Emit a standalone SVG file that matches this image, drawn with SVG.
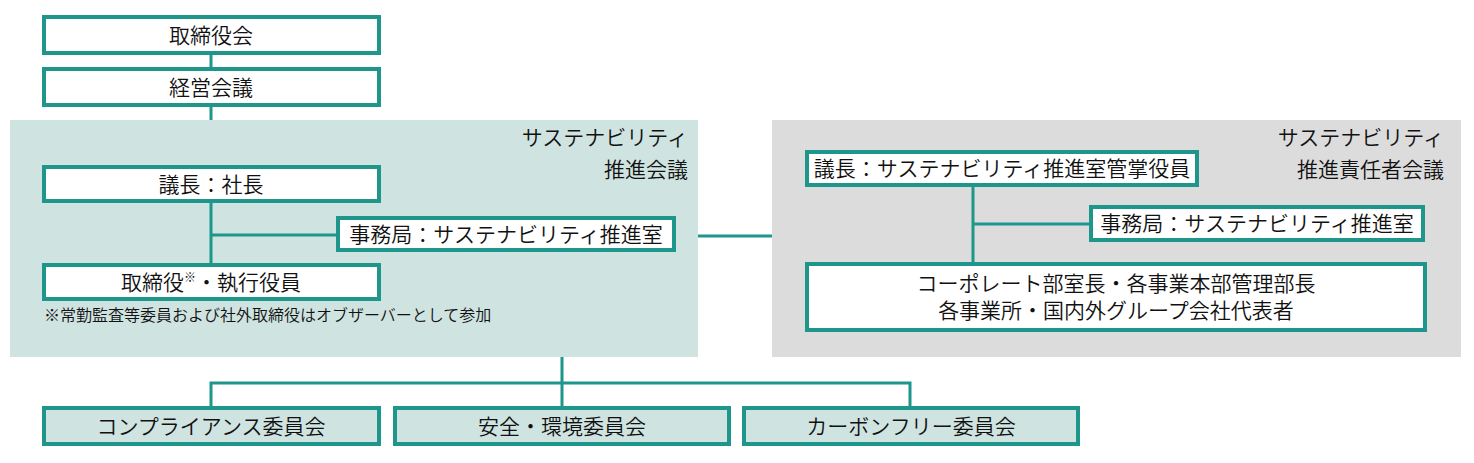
<svg xmlns="http://www.w3.org/2000/svg" width="1474" height="463" viewBox="0 0 1474 463">
<style>
.box{fill:#ffffff;stroke:#1e968c;stroke-width:4}
.cbox{fill:#cfe3e0;stroke:#1e968c;stroke-width:4}
.ln{stroke:#1e968c;stroke-width:3;fill:none}
text{font-family:"Noto Sans CJK JP","Noto Sans",sans-serif;fill:#111;font-size:21px;font-weight:350}
.c{text-anchor:middle}
.r{text-anchor:end;font-size:21px}
.note{font-size:16px}
</style>
<rect width="1474" height="463" fill="#ffffff"/>
<g id="panel-left"><rect x="10" y="120" width="688" height="237" fill="#cfe3e0"/>
<text class="r" x="688" y="145">サステナビリティ</text>
<text class="r" x="688" y="177">推進会議</text>
<text class="note" x="44" y="321">※常勤監査等委員および社外取締役はオブザーバーとして参加</text></g>
<g id="panel-right"><rect x="772" y="120" width="689" height="237" fill="#dcdcdc"/>
<text class="r" x="1444" y="145">サステナビリティ</text>
<text class="r" x="1444" y="177">推進責任者会議</text></g>
<g id="connectors">
<path class="ln" d="M211 55V67M211 107V120M211 203V263M211 235H336M698 236H772M973 187V262M973 224H1089M562 357V383M211 406V383H910V406M562 383V406"/>
</g>
<g id="n1"><rect class="box" x="44" y="17" width="335" height="36"/><text class="c" x="211" y="43">取締役会</text></g>
<g id="n2"><rect class="box" x="44" y="69" width="335" height="36"/><text class="c" x="211" y="95">経営会議</text></g>
<g id="n3"><rect class="box" x="44" y="167" width="335" height="34"/><text class="c" x="211" y="192">議長：社長</text></g>
<g id="n4"><rect class="box" x="338" y="218" width="336" height="32"/><text class="c" x="506" y="242">事務局：サステナビリティ推進室</text></g>
<g id="n5"><rect class="box" x="44" y="265" width="335" height="34"/><text class="c" x="211" y="290">取締役<tspan font-size="12" dy="-8">※</tspan><tspan dy="8">・執行役員</tspan></text></g>
<g id="n6"><rect class="box" x="807" y="152" width="390" height="33"/><text class="c" x="1002" y="176">議長：サステナビリティ推進室管掌役員</text></g>
<g id="n7"><rect class="box" x="1091" y="207" width="332" height="33"/><text class="c" x="1257" y="231">事務局：サステナビリティ推進室</text></g>
<g id="n8"><rect class="box" x="807" y="264" width="618" height="66"/><text class="c" x="1116" y="291">コーポレート部室長・各事業本部管理部長</text><text class="c" x="1116" y="318">各事業所・国内外グループ会社代表者</text></g>
<g id="n9"><rect class="cbox" x="44" y="408" width="335" height="36"/><text class="c" x="211" y="434">コンプライアンス委員会</text></g>
<g id="n10"><rect class="cbox" x="395" y="408" width="334" height="36"/><text class="c" x="562" y="434">安全・環境委員会</text></g>
<g id="n11"><rect class="cbox" x="744" y="408" width="334" height="36"/><text class="c" x="911" y="434">カーボンフリー委員会</text></g>
</svg>
